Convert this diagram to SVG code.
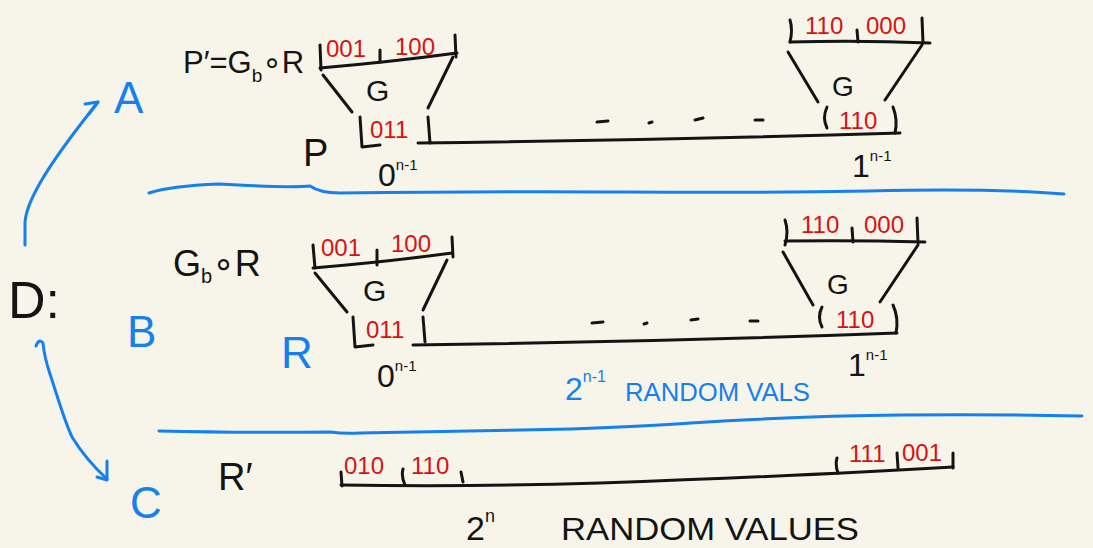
<svg xmlns="http://www.w3.org/2000/svg" width="1093" height="548" viewBox="0 0 1093 548">
  <style>
    .ink{fill:none;stroke:#141414;stroke-width:3;stroke-linecap:round;stroke-linejoin:round}
    .blue{fill:none;stroke:#1580ee;stroke-width:3;stroke-linecap:round;stroke-linejoin:round}
    text{font-family:"Liberation Sans","DejaVu Sans",sans-serif}
    .k{fill:#141414}
    .r{fill:#d81212;font-size:24px}
    .b{fill:#1580ee}
  </style>
  <rect width="1093" height="548" fill="#f7f5ea"/>

  <!-- left label and the three cases -->
  <g id="label-d">
    <text class="k" x="8" y="318" font-size="52">D:</text>
  </g>
  <g id="case-a"><text class="b" x="114" y="113" font-size="44">A</text></g>
  <g id="case-b"><text class="b" x="127" y="347" font-size="44">B</text></g>
  <g id="case-c"><text class="b" x="130" y="518" font-size="44">C</text></g>

  <!-- section dividers -->
  <g id="dividers">
    <path class="blue" d="M149 193 Q170 186 219 184 Q290 188 310 186 Q320 193 340 193 Q500 191 626 192 T869 191 Q990 188 1064 194"/>
    <path class="blue" d="M159 431 Q250 433 330 432 Q345 434 360 433 Q480 431 571 429 Q650 426 691 423 Q800 416 902 415 Q990 414 1082 416"/>
  </g>

  <!-- connectors from D to the cases -->
  <g id="connectors">
    <path class="blue" d="M25 245 L25 222 C27 195 60 150 98 102"/>
    <path class="blue" d="M85 104 L98 102 L89 114"/>
    <path class="blue" d="M36 346 Q39 338 43 343 C44 355 46 362 50 374 C58 398 64 420 72 437 C83 455 95 468 107 479"/>
    <path class="blue" d="M107 461 L107 480 L97 477"/>
  </g>

  <!-- case A: P' = G_b o R -->
  <g id="row-a-label">
    <text class="k" x="183" y="73" font-size="31">P′=G<tspan font-size="19" dy="9">b</tspan><tspan dy="-9">∘R</tspan></text>
    <text class="k" x="303" y="166" font-size="38">P</text>
    <text class="k" x="378" y="186" font-size="32">0<tspan font-size="15" dy="-16">n-1</tspan></text>
    <text class="k" x="852" y="177" font-size="32">1<tspan font-size="15" dy="-16">n-1</tspan></text>
  </g>
  <g id="row-a-funnel-left">
    <path class="ink" d="M320 68 Q390 62 457 53"/>
    <path class="ink" d="M320 45 L321 70 M380 50 L380 62 M455 35 L456 57"/>
    <path class="ink" d="M323 75 L352 112 M453 57 L428 108"/>
    <path class="ink" d="M360 117 L362 147 L380 145 M428 117 L430 143"/>
    <text class="r" x="326" y="57">001</text>
    <text class="r" x="395" y="55">100</text>
    <text class="k" x="366" y="101" font-size="30">G</text>
    <text class="r" x="370" y="138">011</text>
  </g>
  <g id="row-a-funnel-right">
    <path class="ink" d="M790 42 Q860 40 930 43"/>
    <path class="ink" d="M790 20 Q793 30 790 42 M857 30 L858 42 M922 18 L923 43"/>
    <path class="ink" d="M788 52 L818 102 M922 45 L885 100"/>
    <path class="ink" d="M827 107 Q822 118 827 128 M893 107 Q898 120 895 133"/>
    <text class="r" x="805" y="34">110</text>
    <text class="r" x="866" y="34">000</text>
    <text class="k" x="832" y="96" font-size="28">G</text>
    <text class="r" x="839" y="129">110</text>
  </g>
  <g id="row-a-line">
    <path class="ink" d="M418 143 Q660 140 900 133"/>
    <path class="ink" d="M597 122 L608 121 M649 123 L652 122 M695 120 L703 118 M755 120 L763 120"/>
  </g>

  <!-- case B: G_b o R -->
  <g id="row-b-label">
    <text class="k" x="173" y="276" font-size="36">G<tspan font-size="20" dy="7">b</tspan><tspan dy="-7">∘R</tspan></text>
    <text class="b" x="281" y="368" font-size="44">R</text>
    <text class="k" x="377" y="387" font-size="32">0<tspan font-size="15" dy="-16">n-1</tspan></text>
    <text class="k" x="848" y="376" font-size="32">1<tspan font-size="15" dy="-16">n-1</tspan></text>
  </g>
  <g id="row-b-funnel-left">
    <path class="ink" d="M313 268 Q385 262 452 253"/>
    <path class="ink" d="M313 245 L315 268 M377 250 L377 265 M452 237 L453 257"/>
    <path class="ink" d="M315 273 L347 312 M447 260 L423 310"/>
    <path class="ink" d="M353 317 L355 347 L373 345 M423 317 L425 342"/>
    <text class="r" x="321" y="256">001</text>
    <text class="r" x="391" y="252">100</text>
    <text class="k" x="363" y="301" font-size="30">G</text>
    <text class="r" x="366" y="338">011</text>
  </g>
  <g id="row-b-funnel-right">
    <path class="ink" d="M785 241 Q855 240 925 242"/>
    <path class="ink" d="M785 220 Q789 232 785 245 M852 228 L853 242 M917 218 L918 243"/>
    <path class="ink" d="M783 252 L813 305 M918 245 L880 302"/>
    <path class="ink" d="M822 307 Q817 317 822 327 M893 305 Q899 318 896 333"/>
    <text class="r" x="801" y="233">110</text>
    <text class="r" x="864" y="233">000</text>
    <text class="k" x="827" y="294" font-size="28">G</text>
    <text class="r" x="836" y="328">110</text>
  </g>
  <g id="row-b-line">
    <path class="ink" d="M413 345 Q660 342 897 333"/>
    <path class="ink" d="M592 323 L603 322 M644 324 L647 323 M691 320 L698 319 M750 321 L758 321"/>
    <text class="b" x="565" y="400" font-size="32">2<tspan font-size="16" dy="-18">n-1</tspan></text>
    <text class="b" x="625" y="401" font-size="26" textLength="185" lengthAdjust="spacingAndGlyphs">RANDOM VALS</text>
  </g>

  <!-- case C: R' -->
  <g id="row-c">
    <text class="k" x="218" y="490" font-size="38">R′</text>
    <path class="ink" d="M341 485 Q470 487 600 483 Q800 476 953 467"/>
    <path class="ink" d="M341 472 L342 486 M403 469 Q401 476 405 485 M461 472 L463 482 M837 458 Q835 465 838 473 M897 453 L898 468 M953 453 L953 468"/>
    <text class="r" x="344" y="474">010</text>
    <text class="r" x="411" y="474">110</text>
    <text class="r" x="849" y="462">111</text>
    <text class="r" x="902" y="461">001</text>
    <text class="k" x="466" y="540" font-size="34">2<tspan font-size="18" dy="-18">n</tspan></text>
    <text class="k" x="561" y="540" font-size="32" textLength="298" lengthAdjust="spacingAndGlyphs">RANDOM VALUES</text>
  </g>
</svg>
